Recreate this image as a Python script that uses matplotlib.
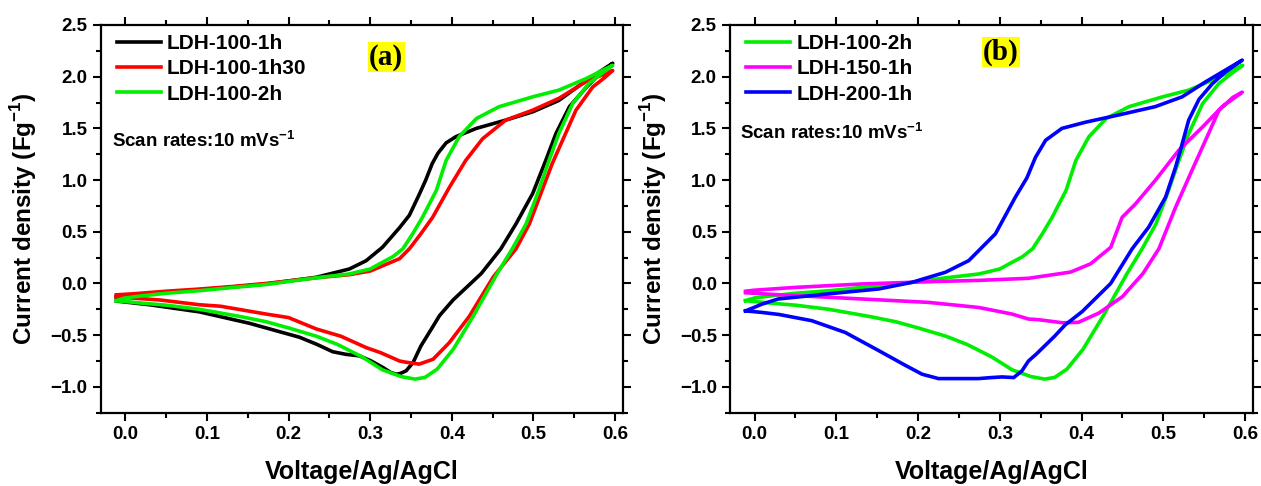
import numpy as np
import matplotlib as mpl
mpl.use('Agg')
import matplotlib.pyplot as plt
from matplotlib.ticker import MultipleLocator

mpl.rc('font', family='Liberation Sans', weight='bold')
mpl.rc('axes', labelweight='bold')
mpl.rc('mathtext', fontset='custom', rm='Liberation Sans:bold', bf='Liberation Sans:bold')

#%% data (read off the CV loops: anodic sweep, then cathodic return)
v_1h = [-0.011, 0.01, 0.05, 0.091, 0.13, 0.1726, 0.234, 0.2745, 0.295, 0.315, 0.336, 0.348,
        0.36, 0.368, 0.376, 0.383, 0.393, 0.405, 0.43, 0.466, 0.499, 0.531, 0.564, 0.597,
        0.58, 0.565, 0.544, 0.5275, 0.515, 0.499, 0.4786, 0.46, 0.436, 0.4016, 0.385, 0.377,
        0.362, 0.3525, 0.344, 0.337, 0.332, 0.325, 0.315, 0.30, 0.2867, 0.27, 0.254, 0.235,
        0.2134, 0.152, 0.091, 0.03, -0.011]
i_1h = [-0.14, -0.12, -0.085, -0.06, -0.035, -0.005, 0.06, 0.14, 0.22, 0.35, 0.54, 0.66,
        0.86, 1.0, 1.16, 1.26, 1.36, 1.42, 1.50, 1.58, 1.66, 1.77, 1.96, 2.13,
        2.02, 1.90, 1.71, 1.45, 1.19, 0.87, 0.577, 0.335, 0.096, -0.159, -0.31, -0.414,
        -0.606, -0.765, -0.845, -0.87, -0.878, -0.86, -0.81, -0.745, -0.70, -0.685, -0.66, -0.59,
        -0.52, -0.385, -0.275, -0.206, -0.17]

v_1h30 = [-0.011, 0.01, 0.05, 0.091, 0.13, 0.1726, 0.234, 0.2745, 0.30, 0.315, 0.336, 0.348,
          0.362, 0.3765, 0.397, 0.417, 0.4377, 0.466, 0.499, 0.531, 0.564, 0.597,
          0.587, 0.5725, 0.552, 0.5356, 0.523, 0.509, 0.495, 0.4786, 0.4508, 0.4213, 0.3967,
          0.377, 0.36, 0.3426, 0.336, 0.313, 0.295, 0.264, 0.234, 0.20, 0.1726, 0.1165,
          0.091, 0.0427, -0.011]
i_1h30 = [-0.11, -0.10, -0.075, -0.054, -0.03, 0.0, 0.055, 0.085, 0.12, 0.17, 0.24, 0.335,
          0.48, 0.64, 0.93, 1.19, 1.40, 1.58, 1.676, 1.79, 1.95, 2.06,
          1.99, 1.90, 1.676, 1.385, 1.16, 0.87, 0.577, 0.335, 0.064, -0.319, -0.574,
          -0.733, -0.78, -0.76, -0.75, -0.67, -0.62, -0.51, -0.44, -0.33, -0.296, -0.22,
          -0.206, -0.16, -0.13]

v_2h = [-0.011, 0.0, 0.02, 0.05, 0.091, 0.13, 0.1726, 0.234, 0.2745, 0.30, 0.315, 0.328,
        0.34, 0.352, 0.364, 0.381, 0.393, 0.409, 0.43, 0.458, 0.499, 0.531, 0.564, 0.597,
        0.585, 0.568, 0.548, 0.531, 0.519, 0.505, 0.491, 0.474, 0.4556, 0.426, 0.4016, 0.382,
        0.367, 0.355, 0.3377, 0.315, 0.29, 0.26, 0.234, 0.20, 0.1726, 0.141, 0.091, 0.05,
        0.02, -0.011]
i_2h = [-0.165, -0.14, -0.12, -0.095, -0.07, -0.04, -0.01, 0.055, 0.092, 0.14, 0.205, 0.26,
        0.335, 0.48, 0.64, 0.90, 1.19, 1.42, 1.595, 1.71, 1.805, 1.87, 1.98, 2.11,
        2.04, 1.935, 1.74, 1.45, 1.19, 0.87, 0.577, 0.335, 0.096, -0.319, -0.638, -0.829,
        -0.909, -0.925, -0.90, -0.835, -0.71, -0.59, -0.51, -0.43, -0.37, -0.32, -0.25, -0.21,
        -0.19, -0.167]

v_150 = [-0.011, 0.0, 0.05, 0.131, 0.213, 0.275, 0.335, 0.3865, 0.411, 0.4357, 0.4496, 0.466,
         0.4904, 0.519, 0.5475, 0.572, 0.5965,
         0.585, 0.568, 0.5516, 0.535, 0.515, 0.4945, 0.475, 0.45, 0.421, 0.396, 0.3766,
         0.347, 0.335, 0.315, 0.274, 0.213, 0.131, 0.029, -0.011]
i_150 = [-0.075, -0.065, -0.038, -0.005, 0.017, 0.03, 0.05, 0.11, 0.19, 0.35, 0.64, 0.77,
         1.0, 1.29, 1.51, 1.71, 1.85,
         1.80, 1.676, 1.385, 1.094, 0.738, 0.335, 0.096, -0.127, -0.287, -0.376, -0.38,
         -0.35, -0.344, -0.296, -0.232, -0.183, -0.15, -0.109, -0.09]

v_200 = [-0.011, 0.0, 0.009, 0.029, 0.06, 0.0906, 0.152, 0.1925, 0.2334, 0.262, 0.2946, 0.319,
         0.333, 0.3436, 0.356, 0.376, 0.405, 0.4455, 0.49, 0.523, 0.5516, 0.576, 0.5965,
         0.575, 0.5597, 0.5435, 0.531, 0.523, 0.515, 0.5027, 0.482, 0.4618, 0.4356, 0.401,
         0.38, 0.367, 0.345, 0.335, 0.327, 0.317, 0.3027, 0.29, 0.274, 0.25, 0.225, 0.205,
         0.184, 0.152, 0.111, 0.07, 0.03, 0.009, -0.011]
i_200 = [-0.265, -0.23, -0.2, -0.15, -0.125, -0.10, -0.053, 0.011, 0.108, 0.221, 0.48, 0.835,
         1.02, 1.22, 1.385, 1.50, 1.56, 1.63, 1.71, 1.805, 1.95, 2.064, 2.16,
         2.04, 1.93, 1.78, 1.58, 1.35, 1.126, 0.835, 0.544, 0.335, 0.0, -0.27,
         -0.40, -0.51, -0.68, -0.75, -0.846, -0.91, -0.904, -0.91, -0.92, -0.92, -0.92, -0.878,
         -0.79, -0.65, -0.474, -0.36, -0.30, -0.28, -0.265]

#%% styles
panels = {
  'a': [(v_1h, i_1h, 'k', 'LDH-100-1h'),
        (v_1h30, i_1h30, '#ff0000', 'LDH-100-1h30'),
        (v_2h, i_2h, '#00ee00', 'LDH-100-2h')],
  'b': [(v_2h, i_2h, '#00ee00', 'LDH-100-2h'),
        (v_150, i_150, '#ff00ff', 'LDH-150-1h'),
        (v_200, i_200, '#0000ff', 'LDH-200-1h')],
}

fig = plt.figure(figsize=(12.61, 4.86), dpi=100)
ax_a = fig.add_axes([0.0799, 0.1508, 0.4144, 0.7978])
ax_b = fig.add_axes([0.5789, 0.1508, 0.4150, 0.7978])

tag_pos = {'a': (0.546, 0.917), 'b': (0.518, 0.930)}
scan_pos = {'a': (0.022, 0.685), 'b': (0.02, 0.705)}

for key, ax in (('a', ax_a), ('b', ax_b)):
  for v, i, c, lab in panels[key]:
    ax.plot(v, i, color=c, lw=2.6, label=lab, solid_joinstyle='round')

  ax.set_xlim(-0.03, 0.61)
  ax.set_ylim(-1.25, 2.5)
  ax.xaxis.set_major_locator(MultipleLocator(0.1))
  ax.xaxis.set_minor_locator(MultipleLocator(0.05))
  ax.yaxis.set_major_locator(MultipleLocator(0.5))
  ax.yaxis.set_minor_locator(MultipleLocator(0.25))
  ax.tick_params(which='both', direction='out', top=True, right=True, width=1.5, labelsize=13.5)
  ax.tick_params(which='major', length=6)
  ax.tick_params(which='minor', length=3.5)
  for s in ax.spines.values():
    s.set_linewidth(1.6)

  ax.set_xlabel('Voltage/Ag/AgCl', fontsize=18, labelpad=12)
  ax.set_ylabel('Current density (Fg$^{-1}$)', fontsize=17.5, labelpad=8)

  ax.legend(loc='upper left', bbox_to_anchor=(-0.005, 1.025), frameon=False, fontsize=15,
            handlelength=2.1, handletextpad=0.3, labelspacing=0.3)

  ax.text(*scan_pos[key], 'Scan rates:10 mVs$^{-1}$', transform=ax.transAxes,
          fontsize=13.5, va='baseline')
  ax.text(*tag_pos[key], '(%s)' % key, transform=ax.transAxes, fontsize=21,
          family='Liberation Serif', weight='bold', ha='center', va='center',
          bbox=dict(boxstyle='square,pad=0.05', fc='#ffff00', ec='none'))

fig.savefig('out.png', dpi=100)
